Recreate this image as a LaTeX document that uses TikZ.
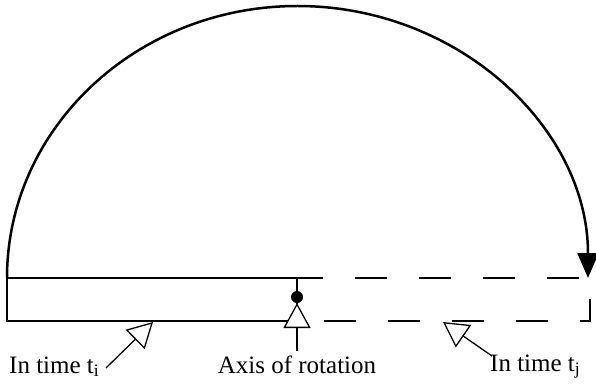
\documentclass[tikz,border=0pt]{standalone}
\usepackage{fontspec}
\setmainfont{Liberation Serif}
\usetikzlibrary{arrows.meta}
\tikzset{
  bar/.style={line width=2.8pt},
  dashbar/.style={line width=2.8pt, dash pattern=on 32pt off 32pt, dash phase=6pt},
  pointer/.style={line width=1.3pt, -{Triangle[open, fill=white, length=25pt, width=27pt, line width=1.3pt]}},
  lbl/.style={inner sep=0pt, font=\fontsize{25}{29}\selectfont}
}
\begin{document}
\begin{tikzpicture}[x=1pt,y=1pt]
\useasboundingbox (0,-387) rectangle (596,0);
% rectangles
\draw[dashbar] (297,-278) -- (590,-278) -- (590,-321) -- (297,-321);
\draw[bar] (297,-278) rectangle (7,-321);
% rotation arc
\draw[line width=2.5pt, -{Triangle[length=25pt, width=21pt]}] (7,-278) arc[start angle=180, end angle=0, x radius=290.5pt, y radius=272pt];
% axis
\coordinate (top) at (297,-278);
\node[circle, fill=black, inner sep=0pt, minimum size=12pt] (dot) at (297,-297) {};
\draw[line width=2.5pt] (top) -- (dot);
% labels
\node[lbl, anchor=base west] (ti) at (9,-373) {In time t\textsubscript{i}};
\node[lbl, anchor=base] (ax) at (297,-373) {Axis of rotation};
\node[lbl, anchor=base west] (tj) at (490,-371) {In time t\textsubscript{j}};
% pointers
\coordinate (pi) at (153,-322);
\coordinate (pa) at (297,-303);
\coordinate (pj) at (443,-322);
\coordinate (si) at (106,-368);
\coordinate (sa) at (297,-351);
\coordinate (sj) at (492,-356);
\draw[pointer] (si) -- (pi);
\draw[pointer] (sa) -- (pa);
\draw[pointer] (sj) -- (pj);
\end{tikzpicture}
\end{document}
